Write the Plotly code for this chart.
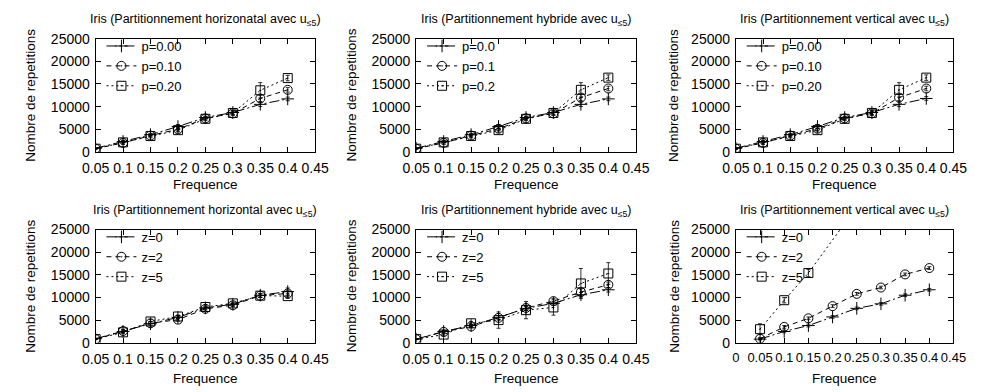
import plotly.graph_objects as go

# ---------------- data ----------------
freq = [0.05, 0.1, 0.15, 0.2, 0.25, 0.3, 0.35, 0.4]

titles = [
    "Iris (Partitionnement horizonatal avec u<sub>≤5</sub>)",
    "Iris (Partitionnement hybride avec u<sub>≤5</sub>)",
    "Iris (Partitionnement vertical avec u<sub>≤5</sub>)",
    "Iris (Partitionnement horizontal avec u<sub>≤5</sub>)",
    "Iris (Partitionnement hybride avec u<sub>≤5</sub>)",
    "Iris (Partitionnement vertical avec u<sub>≤5</sub>)",
]

labels_p_long = ["p=0.00", "p=0.10", "p=0.20"]
labels_p_short = ["p=0.0", "p=0.1", "p=0.2"]
labels_z = ["z=0", "z=2", "z=5"]

# panel 1: horizontal, p
h_p0 = [800, 2300, 3800, 5600, 7600, 8700, 10500, 11700]
h_p1 = [700, 2000, 3600, 5000, 7400, 8500, 11800, 13700]
h_p2 = [700, 2100, 3500, 4800, 7300, 8600, 13600, 16300]
h_p0_err = [100, 300, 300, 400, 300, 400, 500, 400]
h_p1_err = [100, 300, 300, 400, 300, 400, 700, 500]
h_p2_err = [100, 400, 400, 400, 400, 500, 1700, 600]

# panel 2: hybrid, p
y_p0 = [800, 2300, 3800, 5600, 7600, 8700, 10500, 11700]
y_p1 = [700, 2000, 3600, 5100, 7400, 8500, 12000, 14000]
y_p2 = [700, 2100, 3500, 4800, 7300, 8600, 13700, 16400]
y_p0_err = [100, 300, 300, 400, 300, 400, 500, 400]
y_p1_err = [100, 300, 300, 400, 300, 400, 700, 500]
y_p2_err = [100, 400, 400, 400, 400, 500, 1600, 600]

# panel 3: vertical, p
v_p0 = [800, 2300, 3800, 5600, 7600, 8700, 10500, 11800]
v_p1 = [700, 2000, 3600, 5100, 7400, 8500, 12000, 14000]
v_p2 = [700, 2100, 3500, 4800, 7300, 8600, 13700, 16400]
v_p0_err = [100, 300, 300, 400, 300, 400, 500, 400]
v_p1_err = [100, 300, 300, 400, 300, 400, 700, 500]
v_p2_err = [100, 400, 400, 400, 400, 500, 1600, 600]

# panel 4: horizontal, z
h_z0 = [900, 2500, 4200, 5600, 7700, 8500, 10500, 11300]
h_z2 = [800, 2600, 4300, 5100, 7500, 8300, 10400, 10900]
h_z5 = [800, 2300, 4700, 5800, 7900, 8700, 10400, 10300]
h_z0_err = [100, 300, 500, 300, 300, 300, 400, 800]
h_z2_err = [100, 300, 400, 300, 300, 300, 400, 600]
h_z5_err = [100, 300, 400, 300, 300, 300, 400, 500]

# panel 5: hybrid, z
y_z0 = [800, 2500, 3800, 5600, 7600, 8700, 10600, 11700]
y_z2 = [800, 2400, 3600, 5500, 7700, 9200, 11200, 12800]
y_z5 = [800, 1800, 4300, 5000, 7200, 7800, 13100, 15300]
y_z0_err = [100, 300, 300, 400, 400, 400, 500, 500]
y_z2_err = [100, 300, 300, 500, 600, 600, 700, 600]
y_z5_err = [100, 300, 400, 1800, 1900, 1700, 3300, 2400]

# panel 6: vertical, z  (z=5 leaves the plot after 0.15; no point at 0.2)
v_z0 = [800, 2500, 3800, 5700, 7600, 8600, 10500, 11700]
v_z2 = [900, 3500, 5400, 8100, 10800, 12200, 15100, 16500]
v_z5 = [3000, 9400, 15400, None, 30000]
v_z0_err = [200, 300, 300, 300, 300, 300, 300, 300]
v_z2_err = [200, 300, 300, 300, 300, 300, 300, 300]
v_z5_err = [1200, 600, 800, 0, 800]

panels = [
    (labels_p_long, [(h_p0, h_p0_err), (h_p1, h_p1_err), (h_p2, h_p2_err)]),
    (labels_p_short, [(y_p0, y_p0_err), (y_p1, y_p1_err), (y_p2, y_p2_err)]),
    (labels_p_long, [(v_p0, v_p0_err), (v_p1, v_p1_err), (v_p2, v_p2_err)]),
    (labels_z, [(h_z0, h_z0_err), (h_z2, h_z2_err), (h_z5, h_z5_err)]),
    (labels_z, [(y_z0, y_z0_err), (y_z2, y_z2_err), (y_z5, y_z5_err)]),
    (labels_z, [(v_z0, v_z0_err), (v_z2, v_z2_err), (v_z5, v_z5_err)]),
]

# ---------------- style ----------------
W, H = 984, 392
FONT = "Liberation Sans, Arial, sans-serif"
FS_TICK = 14
FS_AXT = 13.5
FS_TITLE = 12.5
FS_LEG = 13
dashes = ["10px,3px,2px,3px", "5px,4px", "2px,3px"]
symbols = ["cross-thin-open", "circle-open-dot", "square-open-dot"]

col_px = [(84, 310), (414, 640), (743, 967)]
row_px = [(32, 150), (231, 349)]
title_y_px = [12, 212]
xtitle_y_px = [184, 386]
ytitle_x_px = [17, 347, 679]

fig = go.Figure()

for i, (labels, series) in enumerate(panels):
    r, c = divmod(i, 3)
    ax = "" if i == 0 else str(i + 1)
    leg = "legend" if i == 0 else f"legend{i + 1}"
    for k, (vals, err) in enumerate(series):
        fig.add_trace(go.Scatter(
            x=freq[:len(vals)], y=vals,
            error_y=dict(type="data", array=err, visible=True,
                         color="black", thickness=0.8, width=2),
            mode="lines+markers",
            name=labels[k],
            line=dict(color="black", width=1, dash=dashes[k]),
            marker=dict(symbol=symbols[k], size=9, color="black",
                        line=dict(color="black", width=1)),
            xaxis="x" + ax, yaxis="y" + ax,
            legend=leg,
            connectgaps=True,
            cliponaxis=True,
        ))
    x0, x1 = col_px[c]
    y0, y1 = row_px[r]
    xr = [0, 0.45] if i == 5 else [0.05, 0.45]
    fig.layout["xaxis" + ax] = dict(
        domain=[x0 / W, x1 / W], range=xr, dtick=0.05, tick0=0,
        anchor="y" + ax, showgrid=False, zeroline=False,
        showline=True, linecolor="black", linewidth=1, mirror="allticks",
        ticks="inside", ticklen=5, tickcolor="black", tickangle=0,
        ticklabelstandoff=3,
        tickfont=dict(family=FONT, size=(13 if i == 5 else FS_TICK), color="black"),
    )
    fig.layout["yaxis" + ax] = dict(
        domain=[1 - y1 / H, 1 - y0 / H], range=[0, 25000], dtick=5000,
        tickformat="d",
        anchor="x" + ax, showgrid=False, zeroline=False,
        showline=True, linecolor="black", linewidth=1, mirror="allticks",
        ticks="inside", ticklen=5, tickcolor="black",
        ticklabelstandoff=2,
        tickfont=dict(family=FONT, size=FS_TICK, color="black"),
    )
    fig.layout[leg] = dict(
        x=(x0 + 6) / W, y=1 - (y0 - 8) / H, xanchor="left", yanchor="top",
        bgcolor="rgba(0,0,0,0)", borderwidth=0, itemwidth=30,
        font=dict(family=FONT, size=FS_LEG, color="black"),
    )
    # titles
    fig.add_annotation(text=titles[i], x=(x0 + x1) / 2 / W, y=1 - title_y_px[r] / H,
                       xref="paper", yref="paper", showarrow=False,
                       xanchor="center", yanchor="middle",
                       font=dict(family=FONT, size=FS_TITLE, color="black"))
    fig.add_annotation(text="Frequence", x=(x0 + x1) / 2 / W, y=1 - xtitle_y_px[r] / H,
                       xref="paper", yref="paper", showarrow=False,
                       xanchor="center", yanchor="middle",
                       font=dict(family=FONT, size=FS_AXT, color="black"))
    fig.add_annotation(text="Nombre de repetitions", x=ytitle_x_px[c] / W,
                       y=1 - (y0 + y1) / 2 / H, textangle=-90,
                       xref="paper", yref="paper", showarrow=False,
                       xanchor="center", yanchor="middle",
                       font=dict(family=FONT, size=FS_AXT, color="black"))

fig.update_layout(
    width=W, height=H, margin=dict(l=0, r=0, t=0, b=0),
    paper_bgcolor="white", plot_bgcolor="white",
    font=dict(family=FONT, size=FS_TICK, color="black"),
)

fig.write_html("out.html", config={"displayModeBar": False},
               post_script="document.body.style.margin='0';document.body.style.overflow='hidden';")
